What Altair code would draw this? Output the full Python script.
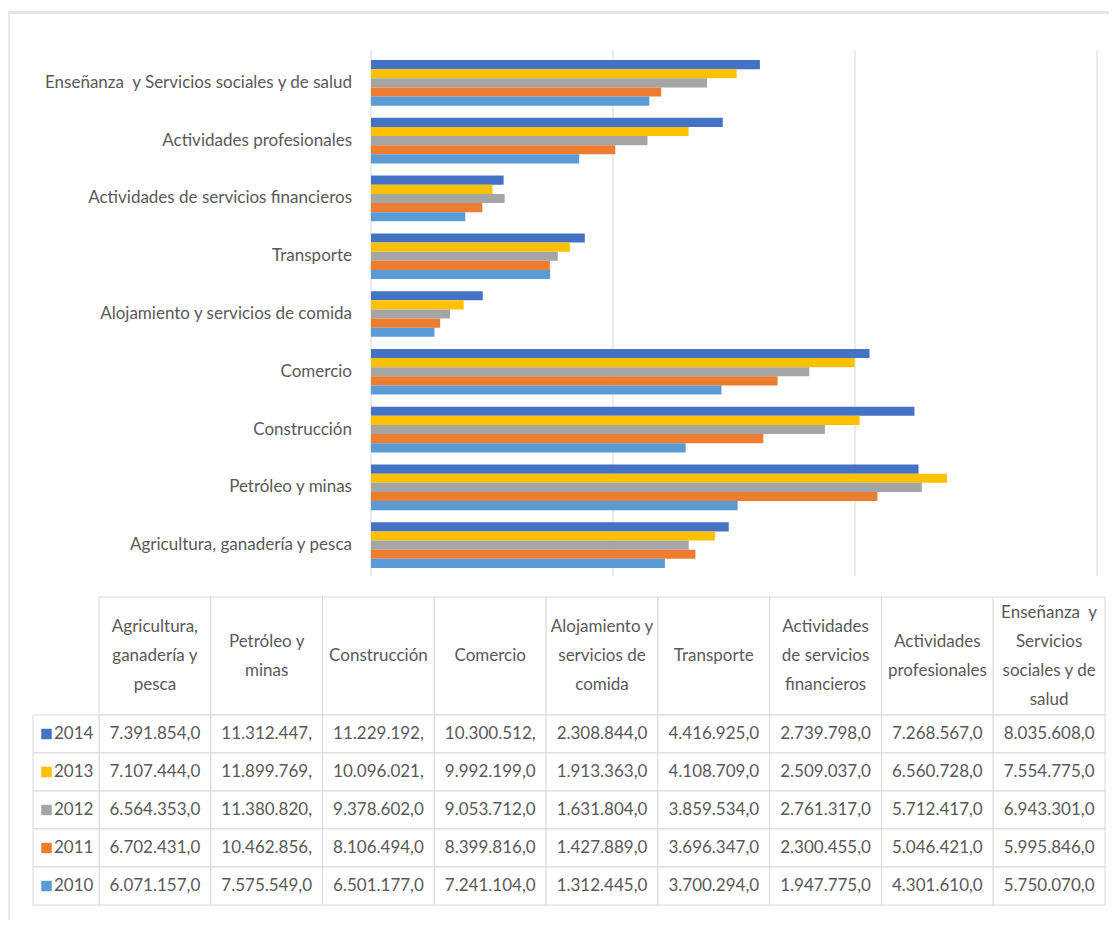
import altair as alt
import pandas as pd

# ---------------- data ----------------
categories = [
    "Agricultura, ganadería y pesca",
    "Petróleo y minas",
    "Construcción",
    "Comercio",
    "Alojamiento y servicios de comida",
    "Transporte",
    "Actividades de servicios financieros",
    "Actividades profesionales",
    "Enseñanza\u00a0 y Servicios sociales y de salud",
]
header_labels = [
    ["Agricultura,", "ganadería y", "pesca"],
    ["Petróleo y", "minas"],
    ["Construcción"],
    ["Comercio"],
    ["Alojamiento y", "servicios de", "comida"],
    ["Transporte"],
    ["Actividades", "de servicios", "financieros"],
    ["Actividades", "profesionales"],
    ["Enseñanza\u00a0 y", "Servicios", "sociales y de", "salud"],
]
years = ["2014", "2013", "2012", "2011", "2010"]
v2014 = [7391854, 11312447, 11229192, 10300512, 2308844, 4416925, 2739798, 7268567, 8035608]
v2013 = [7107444, 11899769, 10096021, 9992199, 1913363, 4108709, 2509037, 6560728, 7554775]
v2012 = [6564353, 11380820, 9378602, 9053712, 1631804, 3859534, 2761317, 5712417, 6943301]
v2011 = [6702431, 10462856, 8106494, 8399816, 1427889, 3696347, 2300455, 5046421, 5995846]
v2010 = [6071157, 7575549, 6501177, 7241104, 1312445, 3700294, 1947775, 4301610, 5750070]
year_values = {"2014": v2014, "2013": v2013, "2012": v2012, "2011": v2011, "2010": v2010}
year_colors = ["#4472C4", "#FFC000", "#A5A5A5", "#ED7D31", "#5B9BD5"]
grid_values = [0, 5_000_000, 10_000_000, 15_000_000]

FONT = "Lato"
TXT = "#595959"
LINE = "#d9d9d9"
FS = 17


def fmt(v):
    s = f"{v:,}".replace(",", ".") + ",0"
    return s[:11]  # the cell clips longer numbers, as in the original


rows = []
for y in years:
    for c, v in zip(categories, year_values[y]):
        rows.append({"category": c, "year": y, "value": v, "label": fmt(v)})
df = pd.DataFrame(rows)

hdr_lines = []
for c, lines in zip(categories, header_labels):
    n = len(lines)
    for i, t in enumerate(lines):
        hdr_lines.append({"category": c, "line": t, "pos": i - (n - 1) / 2})
hdr_lines_df = pd.DataFrame(hdr_lines)

# ---------------- scales ----------------
def bar_x():
    return alt.Scale(domain=[0, 15_000_000], range=[363, 1089], nice=False, zero=True)

def bar_y():
    return alt.Scale(domain=categories[::-1], range=[46, 566], paddingInner=0.21, paddingOuter=0.105)

def tab_x():
    return alt.Scale(domain=categories, range=[91, 1097], paddingInner=0, paddingOuter=0)

def head_y():
    return alt.Scale(domain=["h"], range=[589, 707], paddingInner=0, paddingOuter=0)

def head_line_y():
    # one unit = one text line (29 px), centred on the header row
    return alt.Scale(domain=[-2, 2], range=[590, 706], nice=False, zero=False)

def body_y():
    return alt.Scale(domain=years, range=[707, 897], paddingInner=0, paddingOuter=0)

def year_x():
    return alt.Scale(domain=["yr"], range=[25, 91], paddingInner=0, paddingOuter=0)

def col_scale():
    return alt.Scale(domain=years, range=year_colors)

# ---------------- bar chart ----------------
grid = alt.Chart(pd.DataFrame({"g": grid_values})).mark_rule(color=LINE, strokeWidth=1).encode(
    x=alt.X("g:Q", scale=bar_x(), axis=None),
    y=alt.value(42),
    y2=alt.value(568),
)

bars = alt.Chart(df).mark_bar().encode(
    x=alt.X("value:Q", scale=bar_x(), axis=None),
    y=alt.Y("category:N", scale=bar_y(), axis=None),
    yOffset=alt.YOffset("year:N", sort=years, scale=alt.Scale(domain=years)),
    color=alt.Color("year:N", scale=col_scale(), legend=None),
)

cat_labels = alt.Chart(pd.DataFrame({"category": categories})).mark_text(
    align="right", baseline="middle", dx=-19, font=FONT, fontSize=FS, color=TXT
).encode(
    x=alt.XDatum(0, type="quantitative", scale=bar_x(), axis=None),
    y=alt.Y("category:N", scale=bar_y(), axis=None),
    text="category:N",
)

# ---------------- data table ----------------
hdr_df = pd.DataFrame({"category": categories, "row": "h"})

hdr_rect = alt.Chart(hdr_df).mark_rect(fill="white", stroke=LINE, strokeWidth=1).encode(
    x=alt.X("category:N", scale=tab_x(), axis=None),
    y=alt.Y("row:N", scale=head_y(), axis=None),
)

hdr_text = alt.Chart(hdr_lines_df).mark_text(
    align="center", baseline="middle", font=FONT, fontSize=FS, color=TXT
).encode(
    x=alt.X("category:N", scale=tab_x(), axis=None),
    y=alt.Y("pos:Q", scale=head_line_y(), axis=None),
    text="line:N",
)

body_rect = alt.Chart(df).mark_rect(fill="white", stroke=LINE, strokeWidth=1).encode(
    x=alt.X("category:N", scale=tab_x(), axis=None),
    y=alt.Y("year:N", scale=body_y(), axis=None),
)

body_text = alt.Chart(df).mark_text(
    align="center", baseline="middle", font=FONT, fontSize=FS, color=TXT
).encode(
    x=alt.X("category:N", scale=tab_x(), axis=None),
    y=alt.Y("year:N", scale=body_y(), axis=None),
    text="label:N",
)

yr_df = pd.DataFrame({"year": years, "col": "yr"})

yr_rect = alt.Chart(yr_df).mark_rect(fill="white", stroke=LINE, strokeWidth=1).encode(
    x=alt.X("col:N", scale=year_x(), axis=None),
    y=alt.Y("year:N", scale=body_y(), axis=None),
)

yr_key = alt.Chart(yr_df).mark_square(size=110, filled=True, opacity=1).encode(
    x=alt.value(38.5),
    y=alt.Y("year:N", scale=body_y(), axis=None),
    color=alt.Color("year:N", scale=col_scale(), legend=None),
)

yr_text = alt.Chart(yr_df).mark_text(
    align="left", baseline="middle", dx=-12, font=FONT, fontSize=FS, color=TXT
).encode(
    x=alt.X("col:N", scale=year_x(), axis=None),
    y=alt.Y("year:N", scale=body_y(), axis=None),
    text="year:N",
)

# ---------------- outer frame ----------------
frame_top = alt.Chart(pd.DataFrame({"a": [0]})).mark_rule(color="#e6e4dc", strokeWidth=3).encode(
    x=alt.value(0), x2=alt.value(1101), y=alt.value(4.5)
)
frame_left = alt.Chart(pd.DataFrame({"a": [0]})).mark_rule(color="#ebeae6", strokeWidth=2).encode(
    x=alt.value(1), y=alt.value(4.5), y2=alt.value(912)
)

chart = alt.layer(
    frame_top, frame_left,
    grid, bars, cat_labels,
    hdr_rect, hdr_text,
    body_rect, body_text,
    yr_rect, yr_key, yr_text,
).resolve_scale(
    x="independent", y="independent", color="independent", yOffset="independent"
).properties(
    width=1101, height=912, padding=0,
    autosize=alt.AutoSizeParams(type="none"),
    background="white",
).configure_view(stroke=None)

chart.save("out.html", embed_options={"renderer": "svg", "actions": False})
